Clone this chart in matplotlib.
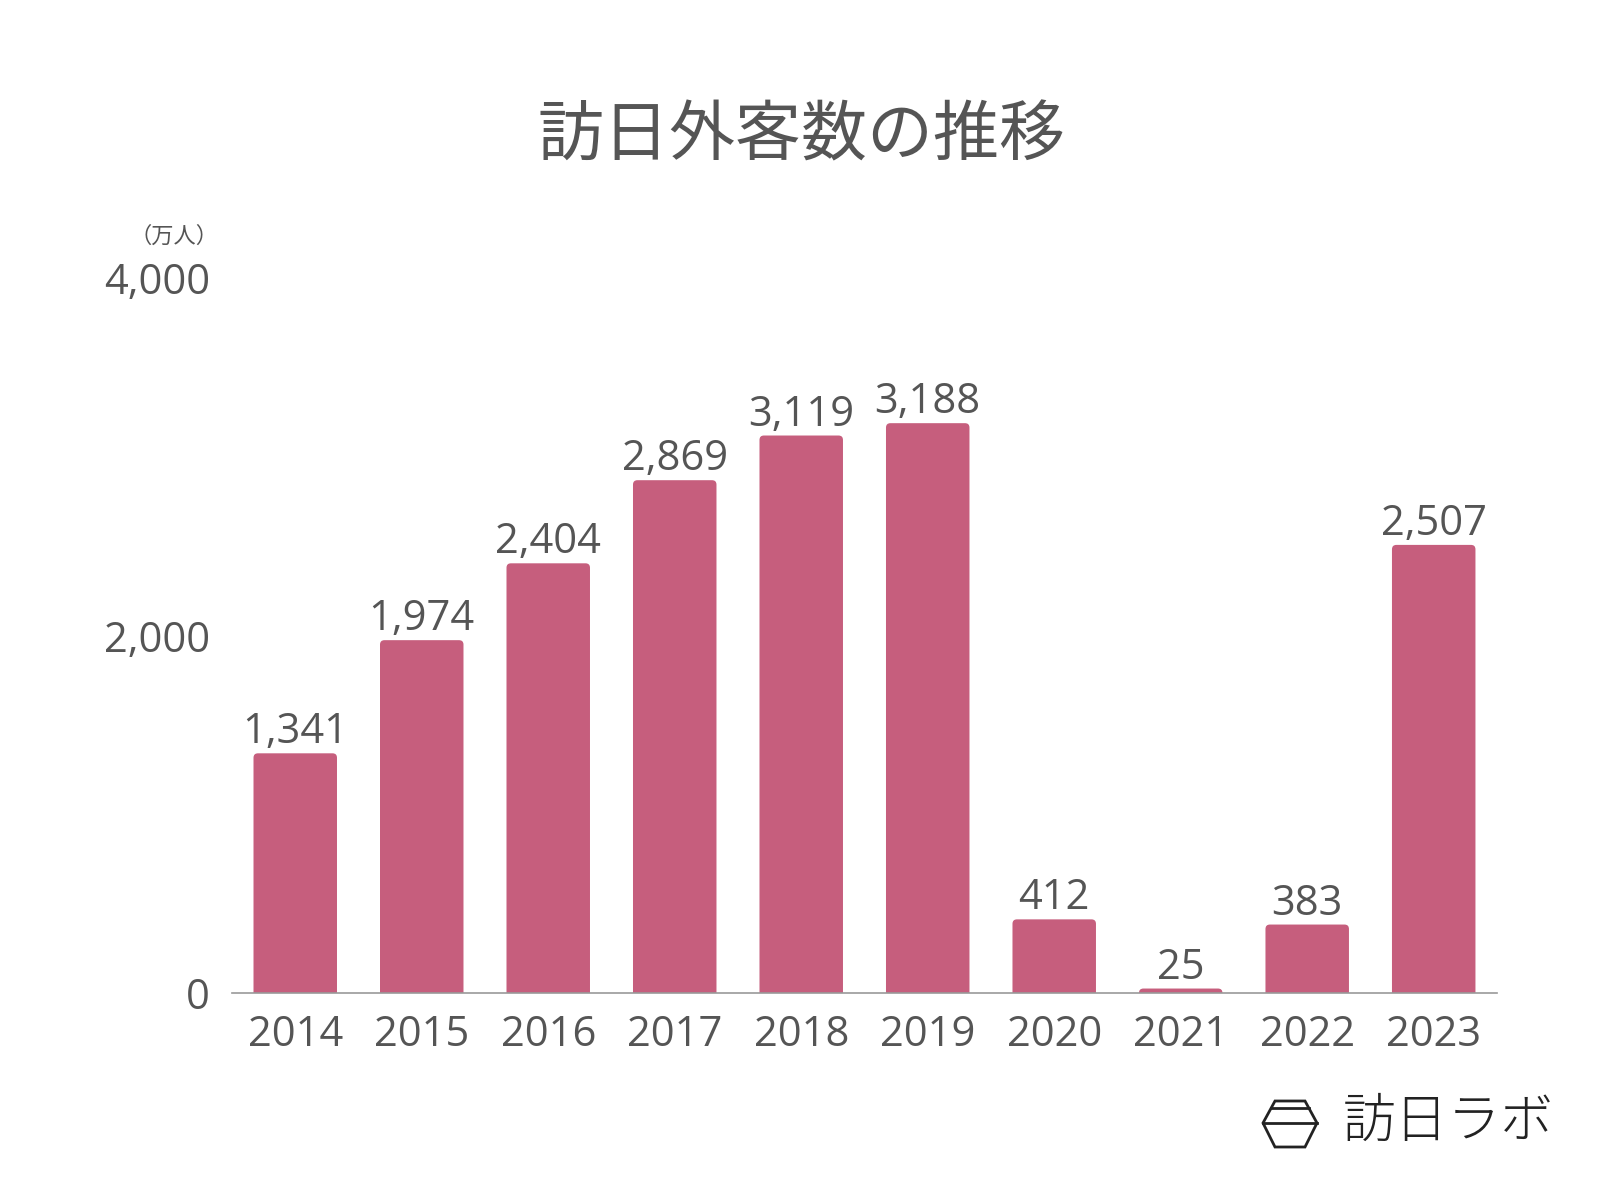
import matplotlib
matplotlib.use("Agg")
import matplotlib.pyplot as plt
from matplotlib.patches import Polygon, FancyBboxPatch
from matplotlib.lines import Line2D

plt.rcParams['font.family'] = ['Noto Sans CJK JP', 'DejaVu Sans']
NUM_FONT = ['Open Sans', 'Noto Sans CJK JP']

years = ["2014", "2015", "2016", "2017", "2018", "2019", "2020", "2021", "2022", "2023"]
visitors = [1341, 1974, 2404, 2869, 3119, 3188, 412, 25, 383, 2507]
yticks = [0, 2000, 4000]
title = "訪日外客数の推移"
unit = "（万人）"
brand = "訪日ラボ"

bar_color = "#C65E7D"
text_color = "#555555"

fig = plt.figure(figsize=(16, 12), dpi=100)
ax = fig.add_axes([0.145, 0.1725, 0.7906, 0.5958])

x = list(range(len(years)))
bars = ax.bar(x, visitors, width=0.66, color=bar_color)
ax.set_xlim(-0.5, len(years) - 0.5)
ax.set_ylim(0, 4000)

# rounded tops: replace each bar by a rounded box of the same geometry
fig.canvas.draw()
p0 = ax.transData.transform((0, 0))
p1 = ax.transData.transform((1, 1))
aspect = (1 / (p1[1] - p0[1])) / (1 / (p1[0] - p0[0]))
r = 0.035
for b in bars:
    b.set_visible(False)
    ext = r * aspect
    box = FancyBboxPatch((b.get_x(), b.get_y() - ext), b.get_width(), b.get_height() + ext,
                         boxstyle=f"round,pad=0,rounding_size={r}",
                         mutation_aspect=aspect, facecolor=bar_color, edgecolor='none')
    ax.add_patch(box)

for xi, v in zip(x, visitors):
    ax.annotate(f"{v:,}", (xi, v), xytext=(0, 0), textcoords='offset points',
                ha='center', va='bottom', fontsize=30, color=text_color, family=NUM_FONT)

ax.set_xticks(x)
ax.set_xticklabels(years, family=NUM_FONT)
ax.set_yticks(yticks)
ax.set_yticklabels([f"{v:,}" for v in yticks], family=NUM_FONT)
ax.tick_params(axis='x', length=0, pad=15, labelsize=30, labelcolor=text_color)
ax.tick_params(axis='y', length=0, pad=16, labelsize=30, labelcolor=text_color)
for s in ['top', 'right', 'left']:
    ax.spines[s].set_visible(False)
ax.spines['bottom'].set_color("#999999")
ax.spines['bottom'].set_linewidth(1.2)
ax.spines['bottom'].set_zorder(5)

fig.text(801 / 1600, 1 - 137 / 1200, title, ha='center', va='center',
         fontsize=47.5, color=text_color)
fig.text(174 / 1600, 1 - 236 / 1200, unit, ha='center', va='center',
         fontsize=16, color=text_color)

# logo
W, H = 1600, 1200
def fc(px, py):
    return (px / W, 1 - py / H)
hexpts = [fc(1275, 1101), fc(1305, 1101), fc(1317, 1123), fc(1305, 1147),
          fc(1275, 1147), fc(1263, 1123)]
fig.patches.append(Polygon(hexpts, closed=True, fill=False, edgecolor="#222222",
                           linewidth=2, transform=fig.transFigure))
fig.lines.append(Line2D([1263 / W, 1317 / W], [1 - 1123 / H] * 2, color="#222222",
                        linewidth=2, transform=fig.transFigure))
fig.lines.append(Line2D([1271 / W, 1309 / W], [1 - 1108 / H] * 2, color="#222222",
                        linewidth=2, transform=fig.transFigure))
fig.text(1448 / W, 1 - 1122 / H, brand, ha='center', va='center',
         fontsize=38, color="#222222", fontweight='light')

fig.savefig("out.png", dpi=100, facecolor="white")
